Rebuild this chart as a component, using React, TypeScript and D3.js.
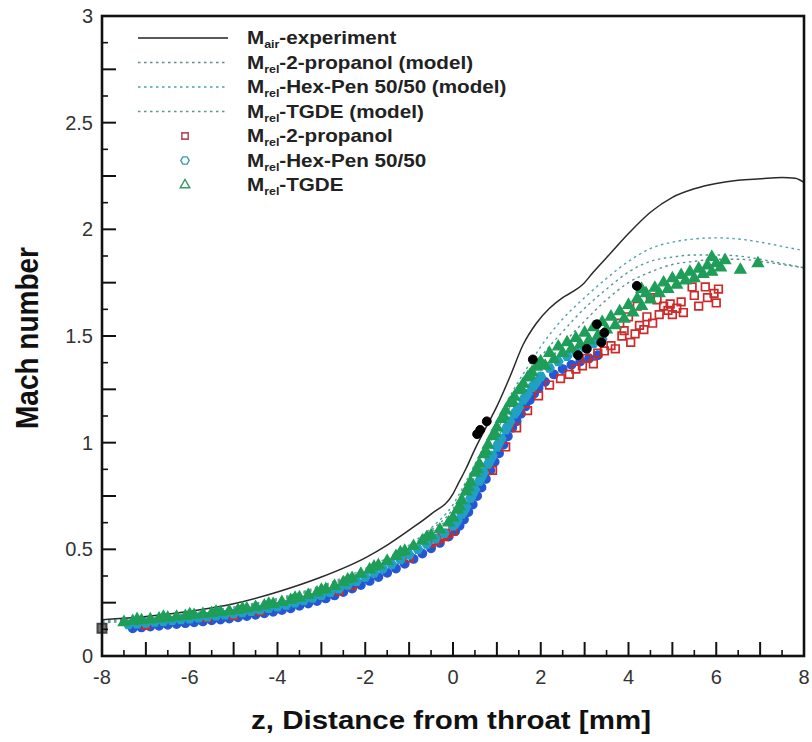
import React from 'react';
import * as d3 from 'd3';

// ---------- DATA ----------
const expZ = [-8, -7, -6, -5, -4, -3, -2, -1.5, -1, -0.5, 0, 0.1, 0.3, 0.5, 0.8, 1.0, 1.3, 1.6, 1.9, 2.2, 2.5, 2.75, 2.95, 3.2, 3.6, 4.0, 4.5, 5.0, 5.5, 6.0, 6.5, 7.0, 7.5, 7.8, 8.0];
const expM = [0.17, 0.185, 0.21, 0.245, 0.3, 0.37, 0.46, 0.52, 0.59, 0.665, 0.76, 0.8, 0.88, 0.97, 1.09, 1.17, 1.31, 1.46, 1.56, 1.63, 1.68, 1.71, 1.74, 1.8, 1.89, 1.98, 2.08, 2.15, 2.19, 2.215, 2.23, 2.237, 2.243, 2.24, 2.22];

const modelZ = [-8, -7, -6, -5, -4, -3, -2, -1.5, -1, -0.5, 0, 0.25, 0.5, 0.75, 1, 1.25, 1.5, 1.75, 2, 2.5, 3, 3.5, 4, 4.5, 5, 5.5, 6, 6.5, 7, 7.5, 8];
const modelPropanolM = [0.155, 0.17, 0.19, 0.22, 0.26, 0.32, 0.395, 0.445, 0.505, 0.58, 0.67, 0.75, 0.84, 0.93, 1.02, 1.1, 1.18, 1.26, 1.33, 1.46, 1.57, 1.67, 1.75, 1.8, 1.835, 1.85, 1.86, 1.86, 1.85, 1.835, 1.82];
const modelHexPenM = [0.165, 0.18, 0.2, 0.23, 0.27, 0.33, 0.41, 0.46, 0.52, 0.6, 0.71, 0.8, 0.9, 1.0, 1.1, 1.2, 1.29, 1.37, 1.45, 1.58, 1.68, 1.77, 1.85, 1.91, 1.94, 1.955, 1.96, 1.955, 1.94, 1.92, 1.9];
const modelTgdeM = [0.16, 0.175, 0.195, 0.225, 0.265, 0.325, 0.4, 0.45, 0.51, 0.59, 0.69, 0.78, 0.87, 0.97, 1.06, 1.15, 1.24, 1.32, 1.4, 1.52, 1.63, 1.72, 1.8, 1.85, 1.87, 1.88, 1.88, 1.875, 1.86, 1.84, 1.82];

const tgdePts: [number, number][] = [
  [-7.5, 0.158], [-7.3, 0.163], [-7.1, 0.167], [-6.9, 0.171], [-6.7, 0.175], [-6.5, 0.179], [-6.3, 0.183], [-6.1, 0.187], [-5.9, 0.191], [-5.7, 0.196], [-5.5, 0.2], [-5.3, 0.205], [-5.1, 0.21], [-4.9, 0.215], [-4.7, 0.222], [-4.5, 0.229], [-4.3, 0.236], [-4.1, 0.243], [-3.9, 0.252], [-3.7, 0.262], [-3.5, 0.274], [-3.3, 0.285], [-3.1, 0.297], [-2.9, 0.312], [-2.7, 0.328], [-2.5, 0.345], [-2.3, 0.365], [-2.1, 0.385], [-1.9, 0.405], [-1.7, 0.425], [-1.5, 0.445], [-1.3, 0.468], [-1.1, 0.492], [-0.9, 0.515], [-0.7, 0.54], [-0.5, 0.565], [-0.3, 0.592], [-0.1, 0.625], [0.0, 0.648], [0.1, 0.685], [0.2, 0.73], [0.3, 0.77], [0.4, 0.815], [0.5, 0.858], [0.6, 0.9], [0.7, 0.945], [0.8, 0.99], [0.9, 1.03], [1.0, 1.07], [1.1, 1.11], [1.2, 1.15], [1.3, 1.185], [1.4, 1.215], [1.5, 1.245], [1.6, 1.275], [1.7, 1.305], [1.8, 1.33], [1.9, 1.355], [2.0, 1.38], [2.2, 1.42], [2.4, 1.45], [2.6, 1.47], [2.8, 1.49], [3.0, 1.515], [3.2, 1.54], [3.4, 1.565], [3.6, 1.59], [3.8, 1.615], [4.0, 1.645], [4.2, 1.675], [4.4, 1.7], [4.6, 1.725], [4.8, 1.75], [5.0, 1.77], [5.2, 1.785], [5.4, 1.8], [5.6, 1.815], [5.8, 1.83], [6.0, 1.84], [6.2, 1.855],
  [2.1, 1.36], [2.3, 1.39], [2.5, 1.42], [2.7, 1.44], [2.9, 1.46], [3.1, 1.48], [3.3, 1.5], [3.5, 1.53], [3.7, 1.55], [3.9, 1.58], [4.1, 1.61], [4.3, 1.64], [4.5, 1.67], [4.7, 1.7], [4.9, 1.72], [5.1, 1.74], [5.3, 1.76], [5.5, 1.77], [5.7, 1.79], [5.9, 1.8], [6.1, 1.82],
  [-7.2, 0.172], [-6.6, 0.183], [-6.0, 0.195], [-5.4, 0.207], [-4.8, 0.222], [-4.2, 0.244], [-3.6, 0.272], [-3.0, 0.31], [-2.4, 0.358], [-1.8, 0.418], [-1.2, 0.485], [-0.6, 0.556],
  [0.15, 0.7], [0.35, 0.79], [0.55, 0.875], [0.75, 0.96], [0.95, 1.045], [1.15, 1.125], [1.35, 1.195], [1.55, 1.255], [1.75, 1.315], [1.95, 1.365],
  [4.3, 1.72], [5.9, 1.87], [6.55, 1.81], [6.95, 1.84],
];

const hexPenPts: [number, number][] = [
  [-7.4, 0.147], [-7.2, 0.151], [-7.0, 0.155], [-6.8, 0.159], [-6.6, 0.163], [-6.4, 0.167], [-6.2, 0.171], [-6.0, 0.175], [-5.8, 0.179], [-5.6, 0.184], [-5.4, 0.188], [-5.2, 0.193], [-5.0, 0.198], [-4.8, 0.204], [-4.6, 0.21], [-4.4, 0.217], [-4.2, 0.224], [-4.0, 0.231], [-3.8, 0.239], [-3.6, 0.249], [-3.4, 0.26], [-3.2, 0.272], [-3.0, 0.285], [-2.8, 0.299], [-2.6, 0.315], [-2.4, 0.333], [-2.2, 0.35], [-2.0, 0.37], [-1.8, 0.39], [-1.6, 0.41], [-1.4, 0.43], [-1.2, 0.452], [-1.0, 0.475], [-0.8, 0.5], [-0.6, 0.525], [-0.4, 0.55], [-0.2, 0.575], [0.0, 0.61], [0.1, 0.635], [0.2, 0.665], [0.3, 0.7], [0.4, 0.74], [0.5, 0.78], [0.6, 0.82], [0.7, 0.86], [0.8, 0.9], [0.9, 0.94], [1.0, 0.98], [1.1, 1.02], [1.2, 1.06], [1.3, 1.1], [1.4, 1.135], [1.5, 1.165], [1.6, 1.2], [1.7, 1.23], [1.8, 1.26], [1.9, 1.285], [2.0, 1.31], [2.2, 1.35], [2.4, 1.38], [2.6, 1.405], [2.8, 1.425], [3.0, 1.445], [3.2, 1.465], [3.4, 1.485],
  [0.05, 0.62], [0.25, 0.68], [0.45, 0.76], [0.65, 0.84], [0.85, 0.92], [1.05, 1.0], [1.25, 1.08], [1.45, 1.15], [1.65, 1.215], [1.85, 1.27],
];

const bluePts: [number, number][] = [
  [-7.3, 0.13], [-7.1, 0.134], [-6.9, 0.138], [-6.7, 0.142], [-6.5, 0.146], [-6.3, 0.15], [-6.1, 0.154], [-5.9, 0.158], [-5.7, 0.162], [-5.5, 0.167], [-5.3, 0.171], [-5.1, 0.176], [-4.9, 0.181], [-4.7, 0.187], [-4.5, 0.193], [-4.3, 0.2], [-4.1, 0.207], [-3.9, 0.215], [-3.7, 0.224], [-3.5, 0.235], [-3.3, 0.246], [-3.1, 0.258], [-2.9, 0.27], [-2.7, 0.284], [-2.5, 0.3], [-2.3, 0.316], [-2.1, 0.333], [-1.9, 0.352], [-1.7, 0.37], [-1.5, 0.39], [-1.3, 0.41], [-1.1, 0.432], [-0.9, 0.455], [-0.7, 0.48], [-0.5, 0.505], [-0.3, 0.53], [-0.1, 0.56], [0.05, 0.585], [0.15, 0.61], [0.25, 0.64], [0.35, 0.675], [0.45, 0.71], [0.55, 0.75], [0.65, 0.79], [0.75, 0.83], [0.85, 0.87], [0.95, 0.91], [1.05, 0.95], [1.15, 0.99], [1.25, 1.03], [1.35, 1.07], [1.45, 1.1], [1.55, 1.135], [1.65, 1.17], [1.75, 1.2], [1.85, 1.23], [1.95, 1.255], [2.1, 1.285], [2.3, 1.32], [2.5, 1.345], [2.7, 1.365], [2.9, 1.38], [3.1, 1.395], [3.3, 1.41],
];

const propanolPts: [number, number][] = [
  [-7.0, 0.145], [-5.6, 0.18], [-5.0, 0.19], [-4.4, 0.21], [-2.6, 0.305], [-2.3, 0.33], [-1.0, 0.46], [-0.5, 0.53], [-0.4, 0.54], [-0.3, 0.55], [-0.25, 0.565], [-0.2, 0.56], [-0.1, 0.575], [0.0, 0.585], [0.9, 0.87], [1.2, 0.98], [1.45, 1.07], [1.7, 1.15], [1.95, 1.22], [2.2, 1.27], [2.45, 1.3], [2.65, 1.32], [2.8, 1.345], [2.95, 1.36], [3.05, 1.395], [3.2, 1.37], [3.3, 1.42], [3.45, 1.43], [3.6, 1.455], [3.7, 1.44], [3.8, 1.56], [3.85, 1.5], [3.9, 1.525], [4.0, 1.59], [4.05, 1.47], [4.15, 1.51], [4.2, 1.64], [4.25, 1.55], [4.35, 1.53], [4.42, 1.59], [4.5, 1.68], [4.55, 1.56], [4.65, 1.67], [4.7, 1.6], [4.8, 1.64], [4.9, 1.62], [4.95, 1.65], [5.0, 1.6], [5.1, 1.63], [5.2, 1.66], [5.25, 1.61], [5.45, 1.73], [5.5, 1.69], [5.6, 1.64], [5.75, 1.73], [5.8, 1.68], [5.95, 1.7], [6.0, 1.655], [6.05, 1.72],
];

const blackDots: [number, number][] = [
  [0.55, 1.04], [0.62, 1.06], [0.77, 1.1], [1.82, 1.39], [2.85, 1.41], [3.05, 1.44], [3.28, 1.555], [3.38, 1.47], [3.45, 1.515], [4.19, 1.735],
];
const edgeSquares: [number, number][] = [[-8, 0.13]];

const xMajor = [-8, -7, -6, -5, -4, -3, -2, -1, 0, 1, 2, 3, 4, 5, 6, 7, 8];
const xMinor = [-7.5, -6.5, -5.5, -4.5, -3.5, -2.5, -1.5, -0.5, 0.5, 1.5, 2.5, 3.5, 4.5, 5.5, 6.5, 7.5];
const xLabels = [-8, -6, -4, -2, 0, 2, 4, 6, 8];
const yMajor = [0, 0.25, 0.5, 0.75, 1, 1.25, 1.5, 1.75, 2, 2.25, 2.5, 2.75, 3];
const yMinor = [0.125, 0.375, 0.625, 0.875, 1.125, 1.375, 1.625, 1.875, 2.125, 2.375, 2.625, 2.875];
const yLabels = ['0', '0.5', '1', '1.5', '2', '2.5', '3'];

// ---------- STYLE ----------
const W = 812, H = 742;
const FONT = '"Liberation Sans", Arial, Helvetica, sans-serif';
const C_GREEN = '#1e9e58';
const C_CYAN = '#22a0c4';
const C_BLUE = '#2556d4';
const C_RED = '#cf2a2a';
const C_PROP_MODEL = '#5f8c8c';
const C_HEX_MODEL = '#4aa3ad';
const C_TGDE_MODEL = '#55998f';

const x = d3.scaleLinear().domain([-8, 8]).range([102, 804]);
const y = d3.scaleLinear().domain([0, 3]).range([656, 16]);

const symbolHex = {
  draw(ctx: any, size: number) {
    const r = Math.sqrt((size * 2) / (3 * Math.sqrt(3)));
    for (let i = 0; i < 6; i++) {
      const a = (Math.PI / 3) * i;
      const px = r * Math.cos(a), py = r * Math.sin(a);
      if (i === 0) ctx.moveTo(px, py); else ctx.lineTo(px, py);
    }
    ctx.closePath();
  },
};

const sq = d3.symbol(d3.symbolSquare, 58)() as string;
const sqLeg = d3.symbol(d3.symbolSquare, 40)() as string;
const tri = d3.symbol(d3.symbolTriangle, 52)() as string;
const triLeg = d3.symbol(d3.symbolTriangle, 40)() as string;
const hex = d3.symbol(symbolHex as any, 56)() as string;
const hexLeg = d3.symbol(symbolHex as any, 46)() as string;
const circ = d3.symbol(d3.symbolCircle, 56)() as string;
const dot = d3.symbol(d3.symbolCircle, 62)() as string;
const bigSq = d3.symbol(d3.symbolSquare, 80)() as string;

function pathFrom(zs: number[], ms: number[]) {
  const gen = d3.line<[number, number]>().x(d => x(d[0])).y(d => y(d[1])).curve(d3.curveMonotoneX);
  return gen(zs.map((z, i) => [z, ms[i]] as [number, number])) as string;
}

function Markers({ pts, d, stroke, fill, sw = 1.6, opacity = 1 }: any) {
  return (
    <g>
      {pts.map((p: [number, number], i: number) => (
        <path key={i} d={d} transform={`translate(${x(p[0])},${y(p[1])})`} stroke={stroke} fill={fill} strokeWidth={sw} opacity={opacity} />
      ))}
    </g>
  );
}

const legendRows = [
  { sub: 'air', rest: '-experiment', kind: 'solid', color: '#222' },
  { sub: 'rel', rest: '-2-propanol (model)', kind: 'dot', color: C_PROP_MODEL },
  { sub: 'rel', rest: '-Hex-Pen 50/50 (model)', kind: 'dot', color: C_HEX_MODEL },
  { sub: 'rel', rest: '-TGDE (model)', kind: 'dot', color: C_TGDE_MODEL },
  { sub: 'rel', rest: '-2-propanol', kind: 'sq', color: '#b8505e' },
  { sub: 'rel', rest: '-Hex-Pen 50/50', kind: 'hex', color: '#3a9aa8' },
  { sub: 'rel', rest: '-TGDE', kind: 'tri', color: '#3a9a6a' },
];
const legendY = [38, 62.5, 87, 111.5, 136, 160.5, 185];

export default function App() {
  return (
    <svg width={W} height={H} style={{ position: 'absolute', left: 0, top: 0, background: '#fff' }} fontFamily={FONT}>
      <rect x={0} y={0} width={W} height={H} fill="#fff" />

      {/* model lines */}
      <path d={pathFrom(modelZ, modelPropanolM)} fill="none" stroke={C_PROP_MODEL} strokeWidth={1.4} strokeDasharray="2.5,3.5" />
      <path d={pathFrom(modelZ, modelHexPenM)} fill="none" stroke={C_HEX_MODEL} strokeWidth={1.4} strokeDasharray="2.5,3.5" />
      <path d={pathFrom(modelZ, modelTgdeM)} fill="none" stroke={C_TGDE_MODEL} strokeWidth={1.4} strokeDasharray="2.5,3.5" />
      {/* experiment */}
      <path d={pathFrom(expZ, expM)} fill="none" stroke="#2a2a2a" strokeWidth={1.5} />

      {/* scatter */}
      <Markers pts={bluePts} d={circ} stroke={C_BLUE} fill={C_BLUE} sw={1.4} />
      <Markers pts={propanolPts} d={sq} stroke={C_RED} fill="none" sw={1.7} />
      <Markers pts={hexPenPts} d={hex} stroke={C_CYAN} fill={C_CYAN} sw={1.4} />
      <Markers pts={tgdePts} d={tri} stroke={C_GREEN} fill={C_GREEN} sw={1.4} />
      <Markers pts={blackDots} d={dot} stroke="#000" fill="#000" sw={1} />
      <Markers pts={edgeSquares} d={bigSq} stroke="#444" fill="#777" sw={2} />

      {/* frame */}
      <rect x={x(-8)} y={y(3)} width={x(8) - x(-8)} height={y(0) - y(3)} fill="none" stroke="#111" strokeWidth={2.6} />

      {/* ticks */}
      {xMajor.map(v => <line key={'xM' + v} x1={x(v)} x2={x(v)} y1={y(0)} y2={y(0) - 14} stroke="#111" strokeWidth={2} />)}
      {xMinor.map(v => <line key={'xm' + v} x1={x(v)} x2={x(v)} y1={y(0)} y2={y(0) - 6} stroke="#111" strokeWidth={1.6} />)}
      {yMajor.map(v => <line key={'yM' + v} x1={x(-8)} x2={x(-8) + 14} y1={y(v)} y2={y(v)} stroke="#111" strokeWidth={2} />)}
      {yMinor.map(v => <line key={'ym' + v} x1={x(-8)} x2={x(-8) + 6} y1={y(v)} y2={y(v)} stroke="#111" strokeWidth={1.6} />)}

      {/* tick labels */}
      {xLabels.map(v => (
        <text key={'xl' + v} x={x(v)} y={684} textAnchor="middle" fontSize={20} fill="#333">{v}</text>
      ))}
      {yLabels.map(s => (
        <text key={'yl' + s} x={93} y={y(+s) + 7} textAnchor="end" fontSize={20} fill="#333">{s}</text>
      ))}

      {/* axis titles */}
      <text x={451} y={729} textAnchor="middle" fontSize={25} fontWeight="bold" fill="#111" textLength={400} lengthAdjust="spacingAndGlyphs">z, Distance from throat [mm]</text>
      <text transform={`translate(38,338) rotate(-90) scale(1,1.12)`} textAnchor="middle" fontSize={28} fontWeight="bold" fill="#111">Mach number</text>

      {/* legend */}
      {legendRows.map((r, i) => {
        const cy = legendY[i];
        return (
          <g key={'lg' + i}>
            {r.kind === 'solid' && <line x1={138} x2={228} y1={cy} y2={cy} stroke={r.color} strokeWidth={1.6} />}
            {r.kind === 'dot' && <line x1={138} x2={228} y1={cy} y2={cy} stroke={r.color} strokeWidth={1.4} strokeDasharray="2.5,3.5" />}
            {r.kind === 'sq' && <path d={sqLeg} transform={`translate(185,${cy})`} fill="none" stroke={r.color} strokeWidth={1.6} />}
            {r.kind === 'hex' && <path d={hexLeg} transform={`translate(185,${cy})`} fill="none" stroke={r.color} strokeWidth={1.4} />}
            {r.kind === 'tri' && <path d={triLeg} transform={`translate(185,${cy})`} fill="none" stroke={r.color} strokeWidth={1.4} />}
            <text transform={`translate(247,${cy + 6}) scale(1.18,1)`} fontSize={17.5} fontWeight="bold" fill="#222">
              M<tspan fontSize={10.5} dy={4}>{r.sub}</tspan><tspan dy={-4}>{r.rest}</tspan>
            </text>
          </g>
        );
      })}
    </svg>
  );
}
